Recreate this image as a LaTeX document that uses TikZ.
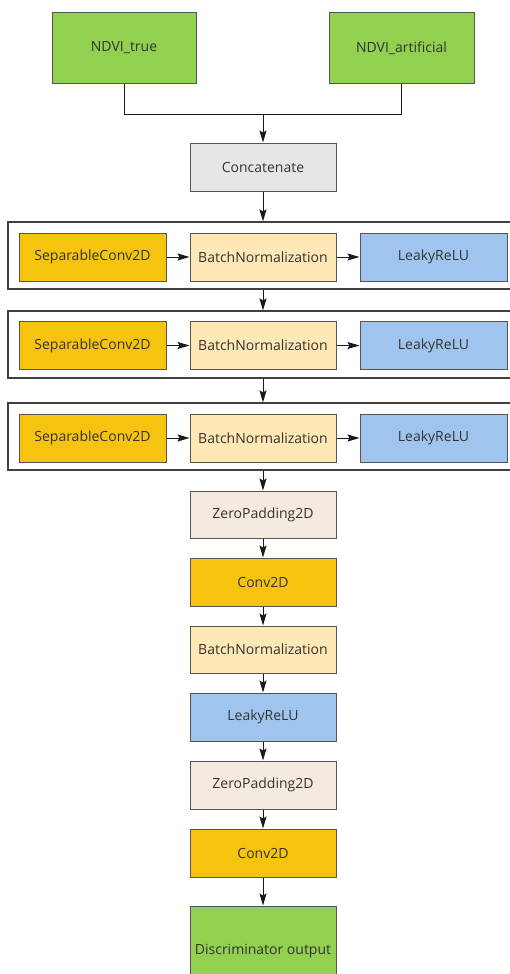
\documentclass[tikz,border=0pt]{standalone}
\usepackage{fontspec}
\setmainfont{Open Sans}
\usetikzlibrary{arrows.meta}
\definecolor{cgreen}{HTML}{92D050}
\definecolor{cgold}{HTML}{F6C40F}
\definecolor{clyellow}{HTML}{FFE8B5}
\definecolor{cblue}{HTML}{9FC5EE}
\definecolor{cgray}{HTML}{E6E6E6}
\definecolor{czero}{HTML}{F4EAE0}
\definecolor{cborder}{HTML}{555555}
\definecolor{ctext}{HTML}{333333}
\begin{document}
\begin{tikzpicture}[x=1pt,y=-1pt,
  box/.style={draw=cborder, line width=1pt, inner sep=0pt, text=ctext,
    font=\fontsize{14}{17}\selectfont, minimum width=146pt, minimum height=48pt},
  frame/.style={draw=black!75, line width=1.2pt, inner sep=0pt, minimum width=510pt, minimum height=67pt},
  arr/.style={-{Stealth[length=12pt,width=7pt,inset=2pt]}, line width=1pt, draw=black!90},
  ln/.style={line width=1pt, draw=black!90}]
\useasboundingbox (0,0) rectangle (510,974);
\clip (0,0) rectangle (510,974);
\fill[white] (0,0) rectangle (510,974);
% inputs
\node[box, fill=cgreen, minimum width=144pt, minimum height=70pt] (ndvit) at (124,48) {NDVI\_true};
\node[box, fill=cgreen, minimum width=145pt, minimum height=70pt] (ndvia) at (401.5,48) {NDVI\_artificial};
\node[box, fill=cgray] (concat) at (263,167) {Concatenate};
\coordinate (j) at (263,114);
\draw[ln] (ndvit.south) |- (j);
\draw[ln] (ndvia.south) |- (j);
\draw[arr] (j) -- (concat.north);
% frames
\node[frame] (f1) at (263,255.5) {};
\node[frame] (f2) at (263,344.5) {};
\node[frame] (f3) at (263,436.5) {};
\foreach \i/\y in {1/257,2/345.5,3/438}{
  \node[box, fill=cgold, minimum width=147pt] (sep\i) at (92.5,\y) {SeparableConv2D};
  \node[box, fill=clyellow] (bn\i) at (263,\y) {BatchNormalization};
  \node[box, fill=cblue, minimum width=147pt] (lk\i) at (433.5,\y) {LeakyReLU};
  \draw[arr] (sep\i.east) -- (bn\i.west);
  \draw[arr] (bn\i.east) -- (lk\i.west);
}
\draw[arr] (concat.south) -- (f1.north);
\draw[arr] (f1.south) -- (f2.north);
\draw[arr] (f2.south) -- (f3.north);
% tail
\node[box, fill=czero, minimum height=47pt] (zp1) at (263,514.5) {ZeroPadding2D};
\node[box, fill=cgold] (cv1) at (263,582) {Conv2D};
\node[box, fill=clyellow, minimum height=47pt] (bn4) at (263,649.5) {BatchNormalization};
\node[box, fill=cblue] (lk4) at (263,717) {LeakyReLU};
\node[box, fill=czero] (zp2) at (263,785) {ZeroPadding2D};
\node[box, fill=cgold] (cv2) at (263,853) {Conv2D};
\node[box, fill=cgreen, minimum height=90pt] (out) at (263,951) {Discriminator output};
\draw[arr] (f3.south) -- (zp1.north);
\draw[arr] (zp1) -- (cv1);
\draw[arr] (cv1) -- (bn4);
\draw[arr] (bn4) -- (lk4);
\draw[arr] (lk4) -- (zp2);
\draw[arr] (zp2) -- (cv2);
\draw[arr] (cv2) -- (out);
\end{tikzpicture}
\end{document}
